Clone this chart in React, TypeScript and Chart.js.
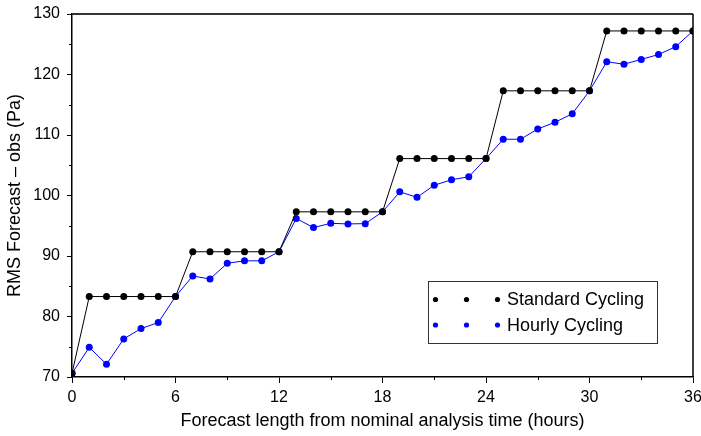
import React, { useEffect, useRef } from "react";
import { Chart, registerables } from "chart.js";

Chart.register(...registerables);

const hours = [
  0, 1, 2, 3, 4, 5, 6, 7, 8, 9, 10, 11, 12, 13, 14, 15, 16, 17, 18,
  19, 20, 21, 22, 23, 24, 25, 26, 27, 28, 29, 30, 31, 32, 33, 34, 35, 36,
];

const standardCycling = [
  70.6, 83.3, 83.3, 83.3, 83.3, 83.3, 83.3, 90.7, 90.7, 90.7, 90.7, 90.7, 90.7,
  97.3, 97.3, 97.3, 97.3, 97.3, 97.3, 106.1, 106.1, 106.1, 106.1, 106.1, 106.1,
  117.3, 117.3, 117.3, 117.3, 117.3, 117.3, 127.2, 127.2, 127.2, 127.2, 127.2, 127.2,
];

const hourlyCycling = [
  70.6, 74.9, 72.1, 76.3, 78.0, 79.0, 83.3, 86.7, 86.2, 88.8, 89.2, 89.2, 90.7,
  96.2, 94.7, 95.4, 95.3, 95.35, 97.3, 100.6, 99.7, 101.7, 102.6, 103.1, 106.1,
  109.3, 109.3, 111.0, 112.1, 113.5, 117.3, 122.1, 121.7, 122.5, 123.3, 124.6, 127.2,
];

const seriesNames = ["Standard Cycling", "Hourly Cycling"];
const xTitle = "Forecast length from nominal analysis time (hours)";
const yTitle = "RMS Forecast \u2013 obs (Pa)";
const xMinorTicks = [3, 9, 15, 21, 27, 33];
const yMinorTicks = [75, 85, 95, 105, 115, 125];

const FONT = "'Liberation Sans', Arial, sans-serif";

const framePlugin = {
  id: "frame",
  afterDraw(chart: any) {
    const { ctx, chartArea } = chart;
    const xs = chart.scales.x;
    const ys = chart.scales.y;
    ctx.save();
    // top and right frame
    ctx.strokeStyle = "#333";
    ctx.lineWidth = 2;
    ctx.beginPath();
    ctx.moveTo(chartArea.left, chartArea.top);
    ctx.lineTo(chartArea.right, chartArea.top);
    ctx.stroke();
    ctx.strokeStyle = "#000";
    ctx.lineWidth = 1.5;
    ctx.beginPath();
    ctx.moveTo(chartArea.right, chartArea.top);
    ctx.lineTo(chartArea.right, chartArea.bottom);
    ctx.stroke();
    // minor ticks
    ctx.lineWidth = 1;
    ctx.strokeStyle = "#000";
    ctx.beginPath();
    xMinorTicks.forEach((v) => {
      const px = Math.round(xs.getPixelForValue(v)) + 0.5;
      ctx.moveTo(px, chartArea.bottom);
      ctx.lineTo(px, chartArea.bottom + 3);
    });
    yMinorTicks.forEach((v) => {
      const py = Math.round(ys.getPixelForValue(v)) + 0.5;
      ctx.moveTo(chartArea.left, py);
      ctx.lineTo(chartArea.left - 3, py);
    });
    ctx.stroke();

    // legend
    const bx = chartArea.right - 265;
    const by = chartArea.bottom - 96;
    const bw = 229;
    const bh = 62;
    ctx.strokeStyle = "#333";
    ctx.lineWidth = 1;
    ctx.strokeRect(Math.round(bx) + 0.5, Math.round(by) + 0.5, bw, bh);
    const colors = ["#000000", "#0000ff"];
    const rowsY = [by + 18.5, by + 44];
    const dotX = [bx + 7.5, bx + 38.5, bx + 69.5];
    ctx.font = `18px ${FONT}`;
    ctx.textBaseline = "middle";
    ctx.textAlign = "left";
    seriesNames.forEach((name, i) => {
      ctx.fillStyle = colors[i];
      dotX.forEach((dx) => {
        ctx.beginPath();
        ctx.arc(dx, rowsY[i], 2.6, 0, Math.PI * 2);
        ctx.fill();
      });
      ctx.fillStyle = "#000";
      ctx.fillText(name, bx + 79, rowsY[i] + 1);
    });
    ctx.restore();
  },
};

export default function App() {
  const canvasRef = useRef<HTMLCanvasElement | null>(null);

  useEffect(() => {
    document.body.style.margin = "0";
    const canvas = canvasRef.current;
    if (!canvas) return;
    const chart = new Chart(canvas, {
      type: "line",
      data: {
        datasets: [
          {
            label: seriesNames[0],
            data: hours.map((h, i) => ({ x: h, y: standardCycling[i] })),
            borderColor: "#000000",
            backgroundColor: "#000000",
            borderWidth: 1,
            pointRadius: 3.5,
            pointBorderWidth: 0,
            tension: 0,
          },
          {
            label: seriesNames[1],
            data: hours.map((h, i) => ({ x: h, y: hourlyCycling[i] })),
            borderColor: "#0000ff",
            backgroundColor: "#0000ff",
            borderWidth: 1,
            pointRadius: 3.5,
            pointBorderWidth: 0,
            tension: 0,
          },
        ],
      },
      options: {
        responsive: false,
        animation: false,
        layout: { padding: { top: 14, right: 8, left: 0, bottom: 0 } },
        plugins: {
          legend: { display: false },
          tooltip: { enabled: false },
        },
        scales: {
          x: {
            type: "linear",
            min: 0,
            max: 36,
            afterFit: (s: any) => {
              s.height = 59;
              s.paddingRight = 0;
              s.paddingLeft = 0;
            },
            ticks: {
              stepSize: 6,
              color: "#000",
              font: { family: FONT, size: 16 },
              padding: 5,
              maxRotation: 0,
            },
            grid: {
              display: true,
              drawOnChartArea: false,
              drawTicks: true,
              tickLength: 6,
              color: "#000",
            },
            border: { display: true, color: "#000", width: 1.5 },
            title: {
              display: true,
              text: xTitle,
              color: "#000",
              font: { family: FONT, size: 18 },
              padding: { top: 2, bottom: 4 },
            },
          },
          y: {
            type: "linear",
            min: 70,
            max: 130,
            afterFit: (s: any) => {
              s.width = 72;
              s.paddingTop = 0;
              s.paddingBottom = 0;
            },
            ticks: {
              stepSize: 10,
              color: "#000",
              font: { family: FONT, size: 16 },
              padding: 7,
            },
            grid: {
              display: true,
              drawOnChartArea: false,
              drawTicks: true,
              tickLength: 5,
              color: "#000",
            },
            border: { display: true, color: "#000", width: 1.5 },
            title: {
              display: true,
              text: yTitle,
              color: "#000",
              font: { family: FONT, size: 18 },
              padding: { top: 4, bottom: 4 },
            },
          },
        },
      },
      plugins: [framePlugin],
    });
    return () => chart.destroy();
  }, []);

  return (
    <canvas
      ref={canvasRef}
      width={701}
      height={436}
      style={{ display: "block", width: 701, height: 436 }}
    />
  );
}
